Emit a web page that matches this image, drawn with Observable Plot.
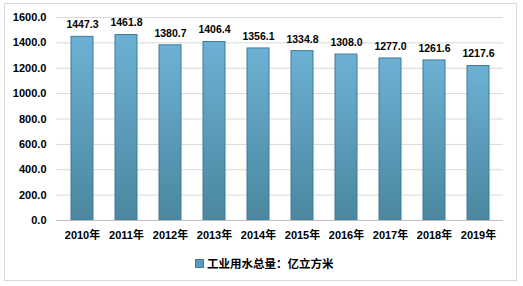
<!DOCTYPE html>
<html>
<head>
<meta charset="utf-8">
<script src="https://cdn.jsdelivr.net/npm/d3@7"></script>
<script src="https://cdn.jsdelivr.net/npm/@observablehq/plot@0.6"></script>
<style>
  body { margin: 0; background: #fff; }
  #wrap { position: relative; width: 523px; height: 286px; overflow: hidden; font-family: "Liberation Sans", Arial, "Noto Sans CJK SC", sans-serif; }
  #frame { position: absolute; left: 4px; top: 3px; width: 513px; height: 278px; border: 1px solid #d9d9d9; box-sizing: border-box; pointer-events: none; }
  #legend { position: absolute; left: 195px; top: 255px; font-size: 11.5px; font-weight: bold; color: #000; display: flex; align-items: center; font-family: "Noto Sans CJK SC", sans-serif; }
  #legend .sw { width: 7px; height: 7px; background: #5b9bbd; border: 1px solid #3f7a96; margin-right: 3px; }
</style>
</head>
<body>
<div id="wrap">
  <div id="chart"></div>
  <div id="frame"></div>
  <div id="legend"><span class="sw"></span><span id="legtext"></span></div>
</div>
<script>
const years = ["2010年","2011年","2012年","2013年","2014年","2015年","2016年","2017年","2018年","2019年"];
const values = [1447.3, 1461.8, 1380.7, 1406.4, 1356.1, 1334.8, 1308.0, 1277.0, 1261.6, 1217.6];
const yTicks = [0, 200, 400, 600, 800, 1000, 1200, 1400, 1600];
const seriesName = "工业用水总量：亿立方米";

const data = years.map((y, i) => ({year: y, value: values[i]}));

const chart = Plot.plot({
  width: 523,
  height: 286,
  marginLeft: 56,
  marginRight: 20,
  marginTop: 17,
  marginBottom: 66,
  style: {fontFamily: "'Liberation Sans', Arial, 'Noto Sans CJK SC', sans-serif", fontSize: "11px", fontWeight: "bold", color: "#000", background: "transparent"},
  x: {domain: years, paddingInner: 0.5, paddingOuter: 0.25, label: null},
  y: {domain: [0, 1600], label: null},
  marks: [
    Plot.gridY(yTicks, {stroke: "#d9d9d9", strokeOpacity: 1}),
    Plot.axisY(yTicks, {tickSize: 0, tickPadding: 10, tickFormat: d => d.toFixed(1), fontWeight: "bold", fontSize: 11}),
    Plot.axisX({tickSize: 0, tickPadding: 11, fontWeight: "bold", fontSize: 11, fontFamily: "'Liberation Sans', 'Noto Sans CJK SC', sans-serif"}),
    Plot.barY(data, {x: "year", y: "value", fill: "url(#barGrad)", stroke: "#3f7a96", strokeWidth: 1}),
    Plot.ruleY([0], {stroke: "#bfbfbf"}),
    Plot.text(data, {x: "year", y: "value", text: d => d.value.toFixed(1), dy: -12, fontWeight: "bold", fontSize: 10.5})
  ]
});

const svg = d3.select(chart);
const defs = svg.insert("defs", ":first-child");
const g = defs.append("linearGradient").attr("id", "barGrad").attr("x1", 0).attr("y1", 0).attr("x2", 0).attr("y2", 1);
g.append("stop").attr("offset", "0%").attr("stop-color", "#6cb1d4");
g.append("stop").attr("offset", "100%").attr("stop-color", "#4b879f");

document.getElementById("chart").appendChild(chart);
document.getElementById("legtext").textContent = seriesName;
</script>
</body>
</html>
